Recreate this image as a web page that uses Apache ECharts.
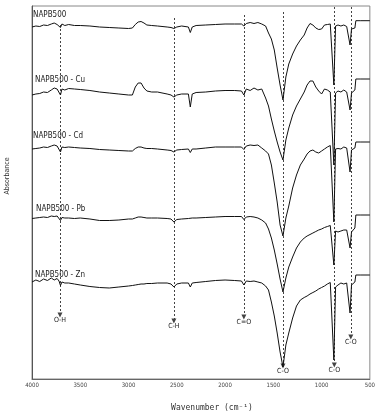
<!DOCTYPE html>
<html><head><meta charset="utf-8">
<script src="https://cdn.jsdelivr.net/npm/echarts@6/dist/echarts.min.js"></script>
<style>html,body{margin:0;padding:0;background:#fff}#c{width:378px;height:416px}</style>
</head><body><div id="c"></div>
<script>
// Wavenumber grid (cm-1)
const wavenumbers = [4000,3960,3920,3880,3840,3800,3770,3740,3720,3705,
 3690,3660,3620,3560,3500,3400,3300,3200,3100,3000,
 2960,2930,2900,2870,2840,2810,2760,2700,2600,2560,
 2530,2500,2450,2380,2360,2340,2300,2200,2100,2000,
 1900,1830,1805,1780,1740,1700,1660,1620,1580,1550,
 1520,1490,1460,1430,1400,1370,1340,1300,1260,1220,
 1180,1150,1120,1090,1060,1030,1000,970,940,910,
 890,873,855,830,800,770,740,720,705,690,
 670,655,645,600,500];

// Stacked spectra (arbitrary offset absorbance units)
const napb500 = [352,353,352.5,354,353.5,355,356,354.5,355.5,351.5,
 355,353.5,354.5,353.5,353.5,353,352,351.5,351,350.5,
 351,354.5,357,357.5,356,354,353.5,353,352,351.5,
 350.5,352,353,352,346.5,352,353.5,354,354.5,355,
 355,355,353,355.5,356.5,355.5,356.5,355,353,346,
 340,329,311,294,279,302,315,325,333,339,
 344,351,355.5,354,351,349.5,350,354,354.5,355,
 354,294,353,354,353,354,352.5,351,334,350,
 349,351,358.3,358.3,358.3];
const napb500Cu = [284,285,285.5,287,286.5,289,291,290,292,284,
 290,289,290.5,290,289.5,288.5,287,286,285,284,
 284,292,296,296,291,288,287,287,285,284,
 282,284,285,285,272,285,286.5,287,288,288.5,
 288.5,288,284,290,288.5,291,289,290,281,273,
 260,248,237,227,219,239,251,264,273,280,
 287,294,298,298,292,288,285,290,289,287,
 288,214,286,288,287,289,287,286,269,286,
 288,289,300,300,300];
const napb500Cd = [230,230.5,231,232,231.5,233,234,233,234,227,
 232,231.5,232,231.5,231,230.5,229.5,229,228.5,228,
 228,230.5,232,232,231,230.5,230.5,230,229,228.5,
 227,229,229.5,230,226.5,230,230,231,232,232,
 232,232,229.5,233,234,233.5,234,231,228,225,
 214,196,177,154,143,161,173,191,204,214,
 220,225,228,229,227,226,228,230,232,233.5,
 233,157,230,230.5,230,232,231,230,207,229,
 230,231,237,237,237];
const napb500Pb = [160.5,161,161.5,162,161.5,163,162.5,163,162,158.5,
 161.5,161,161,160.5,161,160,158.5,158.5,159,160,
 160,161,162,162,161.5,161,161,161,160.5,160,
 157,159.5,160,160.5,159,161,161,161.5,162,162.5,
 162.5,162.5,159.5,162,162.5,162,161,159,156,150,
 141,129,115,100,87,101,112,122,131,137,
 141,143,144.5,146,147.5,149,150,151.5,152.5,153.5,
 154,114,148,147,148,149,149,148,131,147,
 149,151,164,164,164];
const napb500Zn = [97,99,97.5,100,98.5,101,99,100.5,98,93.5,
 97,96,96,95,94,92.5,91.5,91,92,93,
 93.5,94,94.5,95,95,95.5,95.5,96,96,95,
 92,95,96,96,92,96,96.5,97.5,98.5,99,
 98.5,98,94,98,97.5,98,97,96,93,89,
 77,63,46,27,12,34,46,61,73,79,
 81.5,83,85,86.5,88,90,91.5,93,95,96.5,
 97,19,92,94,96,95,96,95,66,94,
 96,97,104,104,104];

const seriesNames = ['NAPB500','NAPB500 - Cu','NAPB500 - Cd','NAPB500 - Pb','NAPB500 - Zn'];
const xTicks = [4000,3500,3000,2500,2000,1500,1000,500];

// Band assignments
const bandWavenumbers = [3710,2530,1805,1400,868,697];
const bandLabels = ['O-H','C-H','C=O','C-O','C-O','C-O'];
const bandLineTop = [354,361,364,367,372,372];
const bandArrowEnd = [64,58,62,13,14,42];

const spectra = [napb500, napb500Cu, napb500Cd, napb500Pb, napb500Zn];
const FONT = '"DejaVu Sans Condensed","DejaVu Sans",sans-serif';

const chart = echarts.init(document.getElementById('c'));
const series = spectra.map((vals,i)=>({
  type:'line', name:seriesNames[i], silent:true, symbol:'none', z:3,
  data: wavenumbers.map((w,j)=>[w, vals[j]]),
  lineStyle:{color:'#111', width:1}
}));
series[0].markLine = {
  silent:true, symbol:['none','triangle'], symbolSize:[5,5], z:2,
  lineStyle:{type:[2,2], color:'#444', width:1},
  label:{show:true, position:'end', distance:2, fontSize:7, color:'#222', fontFamily:FONT, formatter:'{b}'},
  data: bandWavenumbers.map((w,i)=>[{coord:[w,bandLineTop[i]], name:bandLabels[i]},{coord:[w,bandArrowEnd[i]]}])
};

const labelPos = [[33,11],[35,76],[33,132],[36,205],[35,271]];
chart.setOption({
  animation:false,
  backgroundColor:'#fff',
  grid:{left:32, right:8, top:6, bottom:37, show:true, borderColor:'#888', borderWidth:1},
  xAxis:{type:'value', min:500, max:4000, interval:500, inverse:true,
    axisLine:{lineStyle:{color:'#666'}}, axisTick:{show:false}, splitLine:{show:false},
    axisLabel:{fontSize:6, color:'#444', margin:3, fontFamily:FONT,
      formatter:v=>xTicks.includes(v)?String(v):''}},
  yAxis:{type:'value', min:0, max:373, axisLine:{show:true, lineStyle:{color:'#555'}},
    axisTick:{show:false}, axisLabel:{show:false}, splitLine:{show:false}},
  graphic: seriesNames.map((n,i)=>({type:'text', x:labelPos[i][0], y:labelPos[i][1], silent:true,
      style:{text:n, font:'8px '+FONT, fill:'#222'}})).concat([
    {type:'text', x:7, y:176, rotation:Math.PI/2, silent:true,
      style:{text:'Absorbance', font:'7px '+FONT, fill:'#333', align:'center', verticalAlign:'middle'}},
    {type:'text', x:212, y:408, silent:true,
      style:{text:'Wavenumber (cm\u207B\u00B9)', font:'8px "DejaVu Sans Mono",monospace', fill:'#333', align:'center', verticalAlign:'middle'}}
  ]),
  series: series
});
</script>
</body></html>
